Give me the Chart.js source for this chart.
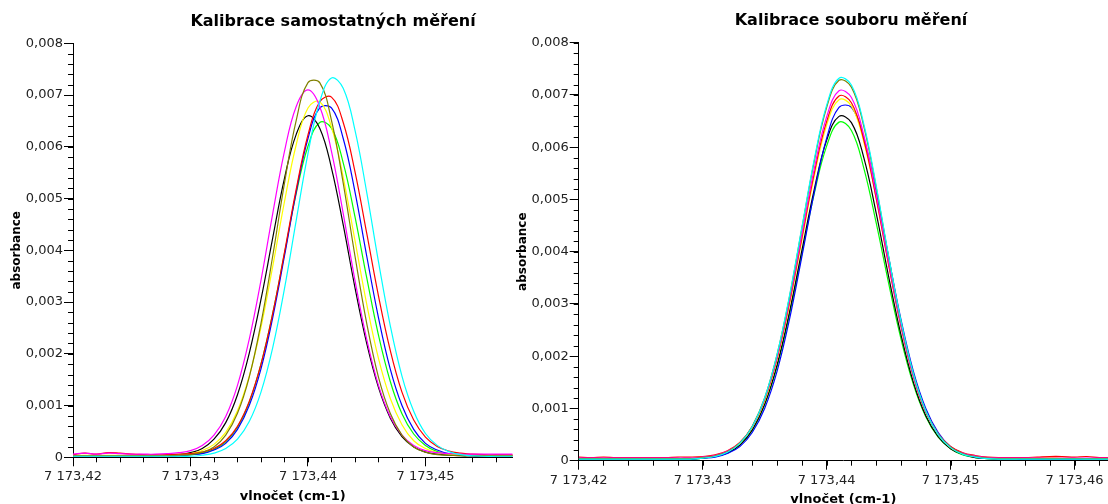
<!DOCTYPE html>
<html lang="cs">
<head>
<meta charset="utf-8">
<title>Kalibrace</title>
<script src="https://cdn.jsdelivr.net/npm/chart.js@4.4.1/dist/chart.umd.min.js"></script>
<style>
  html, body { margin: 0; padding: 0; background: #fff; }
  body { position: relative; width: 1108px; height: 504px; overflow: hidden; }
  canvas { position: absolute; top: 0; }
  #single { left: 0; }
  #group { left: 506px; }
</style>
</head>
<body>
<canvas id="single" width="666" height="504"></canvas>
<canvas id="group" width="690" height="507"></canvas>
<script>
// wavenumber grid (cm-1) of the spectra
const wavenumbersSingle = [
  7173.420, 7173.421, 7173.422, 7173.423, 7173.424, 7173.425, 7173.426, 7173.427, 7173.428, 7173.429,
  7173.430, 7173.431, 7173.432, 7173.433, 7173.434, 7173.435, 7173.436, 7173.437, 7173.438, 7173.439,
  7173.440, 7173.441, 7173.442, 7173.443, 7173.444, 7173.445, 7173.446, 7173.447, 7173.448, 7173.449,
  7173.450, 7173.451, 7173.452, 7173.453, 7173.454, 7173.455, 7173.456, 7173.457, 7173.458
]
const wavenumbersGroup = [
  7173.420, 7173.421, 7173.422, 7173.423, 7173.424, 7173.425, 7173.426, 7173.427, 7173.428, 7173.429,
  7173.430, 7173.431, 7173.432, 7173.433, 7173.434, 7173.435, 7173.436, 7173.437, 7173.438, 7173.439,
  7173.440, 7173.441, 7173.442, 7173.443, 7173.444, 7173.445, 7173.446, 7173.447, 7173.448, 7173.449,
  7173.450, 7173.451, 7173.452, 7173.453, 7173.454, 7173.455, 7173.456, 7173.457, 7173.458, 7173.459,
  7173.460, 7173.461, 7173.462, 7173.463
]

// absorbance, each measurement calibrated on its own
const singleCyan = [
  0.00002, 0.00002, 0.00002, 0.00002, 0.00002, 0.00002, 0.00002, 0.00002, 0.00002, 0.00002,
  0.00002, 0.00004, 0.00008, 0.00017, 0.00035, 0.00069, 0.00126, 0.00212, 0.00326, 0.00458,
  0.00587, 0.00687, 0.00733, 0.00713, 0.00632, 0.00512, 0.00378, 0.00255, 0.00157, 0.00089,
  0.00046, 0.00023, 0.00011, 0.00005, 0.00003, 0.00002, 0.00002, 0.00002, 0.00002
]
const singleOlive = [
  0.00003, 0.00003, 0.00003, 0.00003, 0.00003, 0.00003, 0.00003, 0.00003, 0.00003, 0.00004,
  0.00005, 0.00010, 0.00020, 0.00043, 0.00085, 0.00155, 0.00259, 0.00389, 0.00530, 0.00651,
  0.00724, 0.00724, 0.00651, 0.00530, 0.00389, 0.00259, 0.00155, 0.00085, 0.00043, 0.00020,
  0.00010, 0.00005, 0.00004, 0.00003, 0.00003, 0.00003, 0.00003, 0.00003, 0.00003
]
const singleMagenta = [
  0.00006, 0.00008, 0.00006, 0.00008, 0.00007, 0.00006, 0.00006, 0.00006, 0.00007, 0.00009,
  0.00013, 0.00023, 0.00043, 0.00079, 0.00139, 0.00228, 0.00342, 0.00471, 0.00591, 0.00678,
  0.00710, 0.00678, 0.00591, 0.00471, 0.00342, 0.00228, 0.00139, 0.00079, 0.00043, 0.00023,
  0.00013, 0.00009, 0.00007, 0.00006, 0.00006, 0.00006, 0.00006, 0.00006, 0.00006
]
const singleRed = [
  0.00005, 0.00008, 0.00006, 0.00009, 0.00008, 0.00006, 0.00005, 0.00005, 0.00005, 0.00006,
  0.00007, 0.00010, 0.00017, 0.00032, 0.00060, 0.00108, 0.00180, 0.00278, 0.00396, 0.00518,
  0.00623, 0.00687, 0.00696, 0.00647, 0.00552, 0.00433, 0.00312, 0.00207, 0.00126, 0.00072,
  0.00039, 0.00021, 0.00012, 0.00008, 0.00006, 0.00005, 0.00005, 0.00005, 0.00005
]
const singleYellow = [
  0.00004, 0.00004, 0.00004, 0.00004, 0.00004, 0.00004, 0.00004, 0.00004, 0.00004, 0.00005,
  0.00007, 0.00013, 0.00025, 0.00048, 0.00090, 0.00157, 0.00251, 0.00369, 0.00494, 0.00604,
  0.00675, 0.00687, 0.00638, 0.00541, 0.00419, 0.00296, 0.00191, 0.00114, 0.00063, 0.00032,
  0.00017, 0.00009, 0.00006, 0.00005, 0.00004, 0.00004, 0.00004, 0.00004, 0.00004
]
const singleBlue = [
  0.00003, 0.00003, 0.00003, 0.00003, 0.00003, 0.00003, 0.00003, 0.00003, 0.00003, 0.00003,
  0.00005, 0.00007, 0.00014, 0.00027, 0.00054, 0.00100, 0.00171, 0.00270, 0.00389, 0.00513,
  0.00616, 0.00675, 0.00675, 0.00616, 0.00513, 0.00389, 0.00270, 0.00171, 0.00100, 0.00054,
  0.00027, 0.00014, 0.00007, 0.00005, 0.00003, 0.00003, 0.00003, 0.00003, 0.00003
]
const singleBlack = [
  0.00003, 0.00003, 0.00003, 0.00003, 0.00003, 0.00003, 0.00003, 0.00003, 0.00004, 0.00005,
  0.00009, 0.00017, 0.00035, 0.00067, 0.00121, 0.00201, 0.00305, 0.00424, 0.00539, 0.00624,
  0.00660, 0.00636, 0.00559, 0.00449, 0.00328, 0.00220, 0.00135, 0.00076, 0.00040, 0.00020,
  0.00010, 0.00006, 0.00004, 0.00003, 0.00003, 0.00003, 0.00003, 0.00003, 0.00003
]
const singleGreen = [
  0.00003, 0.00003, 0.00003, 0.00003, 0.00003, 0.00003, 0.00003, 0.00003, 0.00003, 0.00003,
  0.00005, 0.00008, 0.00015, 0.00030, 0.00058, 0.00106, 0.00180, 0.00278, 0.00394, 0.00510,
  0.00601, 0.00647, 0.00636, 0.00569, 0.00465, 0.00347, 0.00236, 0.00147, 0.00084, 0.00045,
  0.00023, 0.00011, 0.00006, 0.00004, 0.00003, 0.00003, 0.00003, 0.00003, 0.00003
]

// absorbance, whole set of measurements calibrated together
const groupCyan = [
  0.00003, 0.00003, 0.00003, 0.00003, 0.00003, 0.00003, 0.00003, 0.00003, 0.00003, 0.00003,
  0.00005, 0.00008, 0.00016, 0.00033, 0.00065, 0.00120, 0.00203, 0.00315, 0.00446, 0.00576,
  0.00680, 0.00732, 0.00719, 0.00644, 0.00526, 0.00392, 0.00267, 0.00166, 0.00095, 0.00050,
  0.00025, 0.00012, 0.00007, 0.00004, 0.00003, 0.00003, 0.00003, 0.00003, 0.00003, 0.00003,
  0.00003, 0.00003, 0.00003, 0.00003
]
const groupOlive = [
  0.00004, 0.00004, 0.00004, 0.00004, 0.00004, 0.00004, 0.00004, 0.00004, 0.00004, 0.00004,
  0.00006, 0.00009, 0.00017, 0.00034, 0.00066, 0.00120, 0.00203, 0.00313, 0.00444, 0.00573,
  0.00676, 0.00728, 0.00715, 0.00640, 0.00523, 0.00390, 0.00266, 0.00166, 0.00095, 0.00051,
  0.00026, 0.00013, 0.00008, 0.00005, 0.00004, 0.00004, 0.00004, 0.00004, 0.00004, 0.00004,
  0.00004, 0.00004, 0.00004, 0.00004
]
const groupMagenta = [
  0.00005, 0.00005, 0.00005, 0.00005, 0.00005, 0.00005, 0.00005, 0.00005, 0.00005, 0.00005,
  0.00007, 0.00010, 0.00018, 0.00034, 0.00065, 0.00118, 0.00198, 0.00306, 0.00432, 0.00558,
  0.00658, 0.00708, 0.00695, 0.00623, 0.00509, 0.00380, 0.00260, 0.00162, 0.00094, 0.00051,
  0.00026, 0.00014, 0.00009, 0.00006, 0.00005, 0.00005, 0.00005, 0.00005, 0.00005, 0.00005,
  0.00005, 0.00005, 0.00005, 0.00005
]
const groupRed = [
  0.00007, 0.00006, 0.00007, 0.00006, 0.00006, 0.00006, 0.00006, 0.00006, 0.00007, 0.00007,
  0.00008, 0.00011, 0.00019, 0.00035, 0.00065, 0.00117, 0.00196, 0.00302, 0.00426, 0.00550,
  0.00649, 0.00698, 0.00685, 0.00614, 0.00502, 0.00375, 0.00257, 0.00161, 0.00093, 0.00051,
  0.00027, 0.00015, 0.00010, 0.00007, 0.00006, 0.00006, 0.00006, 0.00007, 0.00008, 0.00008,
  0.00007, 0.00008, 0.00006, 0.00006
]
const groupYellow = [
  0.00004, 0.00004, 0.00004, 0.00004, 0.00004, 0.00004, 0.00004, 0.00004, 0.00004, 0.00004,
  0.00006, 0.00009, 0.00017, 0.00033, 0.00063, 0.00114, 0.00193, 0.00298, 0.00421, 0.00544,
  0.00642, 0.00691, 0.00679, 0.00610, 0.00502, 0.00377, 0.00259, 0.00162, 0.00093, 0.00050,
  0.00025, 0.00013, 0.00008, 0.00005, 0.00004, 0.00004, 0.00005, 0.00006, 0.00006, 0.00005,
  0.00005, 0.00004, 0.00004, 0.00004
]
const groupBlue = [
  0.00003, 0.00003, 0.00003, 0.00003, 0.00003, 0.00003, 0.00003, 0.00003, 0.00003, 0.00003,
  0.00005, 0.00007, 0.00014, 0.00027, 0.00054, 0.00100, 0.00171, 0.00270, 0.00390, 0.00513,
  0.00617, 0.00676, 0.00676, 0.00617, 0.00513, 0.00390, 0.00270, 0.00171, 0.00100, 0.00054,
  0.00027, 0.00014, 0.00007, 0.00005, 0.00003, 0.00003, 0.00003, 0.00003, 0.00003, 0.00003,
  0.00003, 0.00003, 0.00003, 0.00003
]
const groupBlack = [
  0.00003, 0.00003, 0.00003, 0.00003, 0.00003, 0.00003, 0.00003, 0.00003, 0.00003, 0.00003,
  0.00005, 0.00008, 0.00015, 0.00030, 0.00059, 0.00108, 0.00183, 0.00284, 0.00402, 0.00519,
  0.00613, 0.00659, 0.00647, 0.00580, 0.00474, 0.00353, 0.00241, 0.00150, 0.00086, 0.00046,
  0.00023, 0.00012, 0.00006, 0.00004, 0.00003, 0.00003, 0.00003, 0.00003, 0.00003, 0.00003,
  0.00003, 0.00003, 0.00003, 0.00003
]
const groupGreen = [
  0.00003, 0.00003, 0.00003, 0.00003, 0.00003, 0.00003, 0.00003, 0.00003, 0.00003, 0.00003,
  0.00005, 0.00008, 0.00015, 0.00030, 0.00058, 0.00107, 0.00180, 0.00279, 0.00395, 0.00511,
  0.00602, 0.00648, 0.00632, 0.00560, 0.00455, 0.00340, 0.00233, 0.00146, 0.00084, 0.00045,
  0.00023, 0.00011, 0.00006, 0.00004, 0.00003, 0.00003, 0.00003, 0.00003, 0.00003, 0.00003,
  0.00003, 0.00003, 0.00003, 0.00003
]

const colours = ['#00ffff', '#808000', '#ff00ff', '#ff0000', '#ffff00', '#0000ff', '#000000', '#00ff00']

const X_MIN = 7173.42
const X_STEP = 0.01
const X_MINOR = 0.002
const Y_MAX = 0.008
const Y_STEP = 0.001
const Y_MINOR = 0.0002

Chart.defaults.font.family = "'DejaVu Sans', Verdana, sans-serif"
Chart.defaults.color = '#222'

// 7173.43 -> "7 173,43"
function formatWavenumber (value) {
  return value.toFixed(2).replace('.', ',').replace(/\B(?=(\d{3})+(?!\d))/g, ' ')
}

function formatAbsorbance (value) {
  return value === 0 ? '0' : value.toFixed(3).replace('.', ',')
}

// short unlabelled ticks between the labelled ones
const minorTicks = {
  id: 'minorTicks',
  afterDraw (chart) {
    const { ctx, chartArea, scales } = chart
    const { x, y } = scales
    ctx.save()
    ctx.strokeStyle = '#000'
    ctx.lineWidth = 1
    ctx.beginPath()
    const xCount = Math.floor((x.max - x.min) / X_MINOR + 1e-6)
    for (let k = 1; k <= xCount; k++) {
      const px = Math.round(x.getPixelForValue(x.min + k * X_MINOR)) + 0.5
      ctx.moveTo(px, chartArea.bottom)
      ctx.lineTo(px, chartArea.bottom + 5)
    }
    const yCount = Math.round((y.max - y.min) / Y_MINOR)
    for (let k = 1; k <= yCount; k++) {
      const py = Math.round(y.getPixelForValue(y.min + k * Y_MINOR)) + 0.5
      ctx.moveTo(chartArea.left - 5, py)
      ctx.lineTo(chartArea.left, py)
    }
    ctx.stroke()
    ctx.restore()
  }
}

function toDatasets (wavenumbers, series) {
  return series.map((values, i) => ({
    label: `měření ${i + 1}`,
    data: values.map((y, j) => ({ x: wavenumbers[j], y })),
    borderColor: colours[i],
    borderWidth: 1.2,
    pointRadius: 0,
    tension: 0.4,
    fill: false
  }))
}

function createSpectrumChart (canvas, cfg) {
  // eslint-disable-next-line no-undef
  return new Chart(canvas, {
    type: 'line',
    data: { datasets: toDatasets(cfg.wavenumbers, cfg.series) },
    options: {
      responsive: false,
      animation: false,
      events: [],
      layout: { padding: 0 },
      scales: {
        x: {
          type: 'linear',
          min: X_MIN,
          max: cfg.xMax,
          ticks: {
            stepSize: X_STEP,
            includeBounds: false,
            maxRotation: 0,
            padding: 3,
            font: { size: 13 },
            callback: value => formatWavenumber(value)
          },
          grid: { drawOnChartArea: false, color: '#000', tickLength: 9 },
          border: { color: '#000' },
          title: {
            display: true,
            text: 'vlnočet (cm-1)',
            color: '#000',
            font: { size: 13, weight: 'bold' },
            padding: 0
          },
          afterFit (scale) { scale.height = cfg.xAxisHeight }
        },
        y: {
          type: 'linear',
          min: 0,
          max: Y_MAX,
          ticks: {
            stepSize: Y_STEP,
            padding: 1,
            font: { size: 13 },
            callback: value => formatAbsorbance(value)
          },
          grid: { drawOnChartArea: false, color: '#000', tickLength: 9 },
          border: { color: '#000' },
          title: {
            display: true,
            text: 'absorbance',
            color: '#000',
            font: { size: 12, weight: 'bold' },
            padding: { top: 9.5, bottom: 0 }
          },
          afterFit (scale) { scale.width = cfg.yAxisWidth }
        },
        // empty axis that keeps room on the right so the title sits where it should
        spacer: {
          type: 'linear',
          position: 'right',
          grid: { display: false },
          border: { display: false },
          ticks: { display: false },
          afterFit (scale) { scale.width = cfg.spacerWidth }
        }
      },
      plugins: {
        legend: { display: false },
        tooltip: { enabled: false },
        title: {
          display: true,
          text: cfg.title,
          color: '#000',
          font: { size: 16, weight: 'bold' },
          padding: cfg.titlePadding
        }
      }
    },
    plugins: [minorTicks]
  })
}

createSpectrumChart(document.querySelector('#single'), {
  title: 'Kalibrace samostatných měření',
  wavenumbers: wavenumbersSingle,
  series: [singleCyan, singleOlive, singleMagenta, singleRed, singleYellow, singleBlue, singleBlack, singleGreen],
  xMax: 7173.4574,
  yAxisWidth: 73,
  spacerWidth: 153.6,
  xAxisHeight: 46.7,
  titlePadding: { top: 12.1, bottom: 12.0 }
})

createSpectrumChart(document.querySelector('#group'), {
  title: 'Kalibrace souboru měření',
  wavenumbers: wavenumbersGroup,
  series: [groupCyan, groupOlive, groupMagenta, groupRed, groupYellow, groupBlue, groupBlack, groupGreen],
  xMax: 7173.4627,
  yAxisWidth: 72.7,
  spacerWidth: 88,
  xAxisHeight: 46.3,
  titlePadding: { top: 10.9, bottom: 12.6 }
})
</script>
</body>
</html>
